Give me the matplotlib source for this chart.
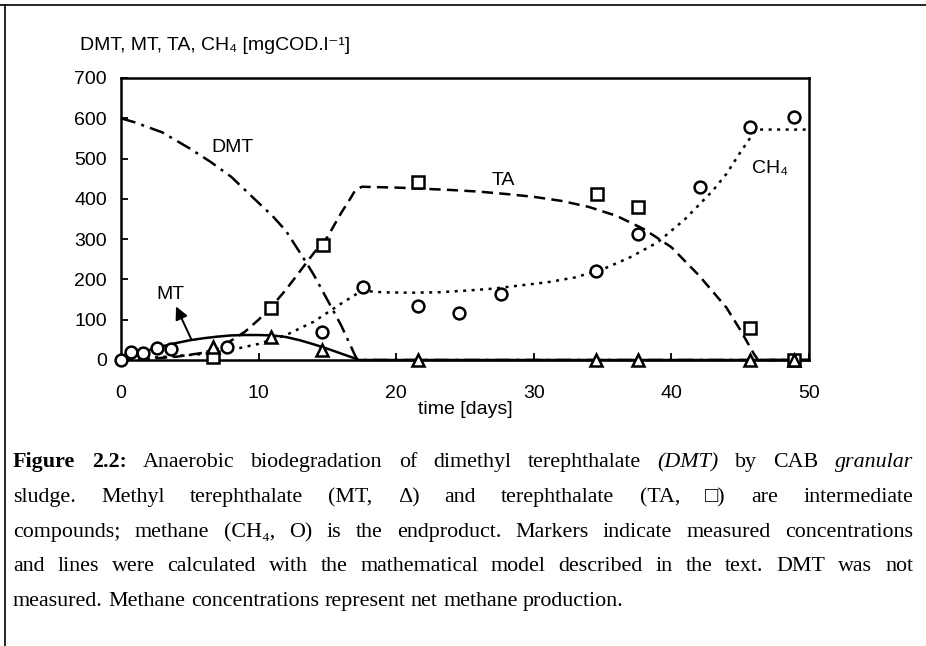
import matplotlib
matplotlib.use("Agg")
import matplotlib.pyplot as plt
from matplotlib.lines import Line2D

# ---------------- data ----------------
# measured points
ch4_t = [0, 0.7, 1.6, 2.6, 3.6, 7.7, 14.6, 17.6, 21.6, 24.6, 27.6, 34.5, 37.6, 42.1, 45.7, 48.9]
ch4_v = [0, 20, 18, 29, 27, 33, 70, 180, 134, 116, 164, 221, 312, 430, 579, 604]
ta_t = [6.7, 10.9, 14.7, 21.6, 34.6, 37.6, 45.7, 48.9]
ta_v = [8, 128, 285, 442, 413, 379, 80, 0]
mt_t = [6.7, 10.9, 14.6, 21.6, 34.5, 37.6, 45.7, 48.9]
mt_v = [33, 56, 25, 0, 0, 0, 0, 0]

# model curves
dmt_mt = [0, 1, 3, 5, 6.5, 8, 10, 11, 12, 13.5, 14, 15.4, 16, 17, 17.2, 50]
dmt_mv = [600, 590, 565, 525, 492, 455, 390, 358, 320, 240, 212, 124, 86, 12, 0, 0]
mt_mt = [0, 1, 2, 3, 4, 5, 6, 7, 8, 9, 10, 11, 12, 13, 14, 15, 16, 17, 17.3, 50]
mt_mv = [0, 12, 24, 34, 42, 49, 54, 58, 61, 62, 62, 61, 57, 49, 39, 28, 16, 4, 0, 0]
ta_mt = [0, 2, 4, 6, 7, 8, 9, 10, 11, 12, 13, 14, 15, 16, 16.6, 17, 17.5, 20, 22, 24, 26, 28, 30,
         32, 34, 36, 38, 40, 42, 44, 45, 46, 46.3, 50]
ta_mv = [0, 3, 8, 18, 28, 48, 70, 100, 135, 175, 220, 265, 305, 365, 397, 420, 430, 428, 425, 422,
         418, 412, 405, 395, 380, 358, 325, 280, 210, 130, 75, 15, 0, 0]
ch4_mt = [0, 2, 4, 6, 8, 10, 12, 14, 16, 17.5, 19, 21, 23, 25, 27, 29, 31, 33, 35, 37, 39, 41, 43,
          44, 45, 46, 46.3, 50]
ch4_mv = [0, 5, 10, 15, 25, 40, 62, 95, 140, 172, 168, 167, 168, 172, 177, 185, 193, 205, 225, 255,
          292, 350, 420, 462, 515, 565, 572, 572]

x_ticks = [0, 10, 20, 30, 40, 50]
y_ticks = [0, 100, 200, 300, 400, 500, 600, 700]

y_title = "DMT, MT, TA, CH\u2084 [mgCOD.l\u207b\u00b9]"
x_title = "time [days]"

caption_lines = [
    [("Figure", "bold"), ("2.2:", "bold"), ("Anaerobic", ""), ("biodegradation", ""), ("of", ""),
     ("dimethyl", ""), ("terephthalate", ""), ("(DMT)", "italic"), ("by", ""), ("CAB", ""),
     ("granular", "italic")],
    [("sludge.", ""), ("Methyl", ""), ("terephthalate", ""), ("(MT,", ""), ("\u0394)", ""),
     ("and", ""), ("terephthalate", ""), ("(TA,", ""), ("\u25a1)", ""), ("are", ""),
     ("intermediate", "")],
    [("compounds;", ""), ("methane", ""), ("(CH\u2084,", ""), ("O)", ""), ("is", ""), ("the", ""),
     ("endproduct.", ""), ("Markers", ""), ("indicate", ""), ("measured", ""),
     ("concentrations", "")],
    [("and", ""), ("lines", ""), ("were", ""), ("calculated", ""), ("with", ""), ("the", ""),
     ("mathematical", ""), ("model", ""), ("described", ""), ("in", ""), ("the", ""), ("text.", ""),
     ("DMT", ""), ("was", ""), ("not", "")],
    [("measured.", ""), ("Methane", ""), ("concentrations", ""), ("represent", ""), ("net", ""),
     ("methane", ""), ("production.", "")],
]

# ---------------- figure ----------------
W, H = 926, 646
fig = plt.figure(figsize=(W / 100, H / 100), dpi=100)
sans = ["Liberation Sans", "DejaVu Sans"]
serif = ["Liberation Serif", "DejaVu Serif", "DejaVu Sans"]
lab_fs = 14

ax = fig.add_axes([121 / W, 1 - 360 / H, (809 - 121) / W, (360 - 78) / H])
ax.set_xlim(0, 50)
ax.set_ylim(0, 700)
ax.set_xticks(x_ticks)
ax.set_yticks(y_ticks)
ax.tick_params(direction="in", length=5, width=1.3, labelsize=lab_fs)
ax.tick_params(axis="x", pad=18)
ax.tick_params(axis="y", pad=10)
for lab in ax.get_xticklabels() + ax.get_yticklabels():
    lab.set_family(sans)
for s in ax.spines.values():
    s.set_linewidth(1.8)

lw = 1.8
ax.plot(dmt_mt, dmt_mv, color="black", lw=lw, dashes=(6, 2.5, 1.2, 2.5), clip_on=False)
ax.plot(mt_mt, mt_mv, color="black", lw=lw, clip_on=False)
ax.plot(ta_mt, ta_mv, color="black", lw=lw, dashes=(4.5, 2.5), clip_on=False)
ax.plot(ch4_mt, ch4_mv, color="black", lw=lw, dashes=(1.2, 2.2), clip_on=False)

mk = dict(ls="none", mfc="white", mec="black", mew=1.8, ms=8.5, clip_on=False, zorder=5)
ax.plot(ch4_t, ch4_v, marker="o", **mk)
ax.plot(ta_t, ta_v, marker="s", **mk)
ax.plot(mt_t, mt_v, marker="^", **mk)

ax.text(8.1, 528, "DMT", family=sans, fontsize=lab_fs, ha="center", va="center")
ax.text(27.8, 446, "TA", family=sans, fontsize=lab_fs, ha="center", va="center")
ax.text(47.2, 476, "CH\u2084", family=sans, fontsize=lab_fs, ha="center", va="center")
ax.text(3.6, 162, "MT", family=sans, fontsize=lab_fs, ha="center", va="center")
ax.annotate("", xy=(4.0, 133), xytext=(5.1, 52),
            arrowprops=dict(arrowstyle="-|>", color="black", lw=1.4, mutation_scale=19,
                            shrinkA=0, shrinkB=0))

fig.text(80 / W, 1 - 45 / H, y_title, family=sans, fontsize=lab_fs, ha="left", va="center")
fig.text(465 / W, 1 - 409 / H, x_title, family=sans, fontsize=lab_fs, ha="center", va="center")

# frame lines of the scanned page
fig.add_artist(Line2D([0, 1], [1 - 5 / H, 1 - 5 / H], color="black", lw=1.2))
fig.add_artist(Line2D([5 / W, 5 / W], [0, 1 - 5 / H], color="black", lw=1.2))

# ---------------- justified caption ----------------
fig.canvas.draw()
renderer = fig.canvas.get_renderer()
left_px, right_px = 13, 913
baselines = [467, 502, 537, 571, 606]
cap_fs = 15.8
for i, line in enumerate(caption_lines):
    arts = []
    for word, style in line:
        t = fig.text(0, 1 - baselines[i] / H, word, family=serif, fontsize=cap_fs,
                     fontweight="bold" if style == "bold" else "normal",
                     fontstyle="italic" if style == "italic" else "normal",
                     ha="left", va="baseline")
        arts.append(t)
    widths = [a.get_window_extent(renderer).width for a in arts]
    if i < len(caption_lines) - 1:
        gap = (right_px - left_px - sum(widths)) / (len(arts) - 1)
    else:
        space = fig.text(0, 0, "a b", family=serif, fontsize=cap_fs)
        sw = space.get_window_extent(renderer).width
        space2 = fig.text(0, 0, "ab", family=serif, fontsize=cap_fs)
        gap = sw - space2.get_window_extent(renderer).width
        space.remove(); space2.remove()
    x = left_px
    for a, w in zip(arts, widths):
        a.set_x(x / W)
        x += w + gap

fig.savefig("out.png", dpi=100)
